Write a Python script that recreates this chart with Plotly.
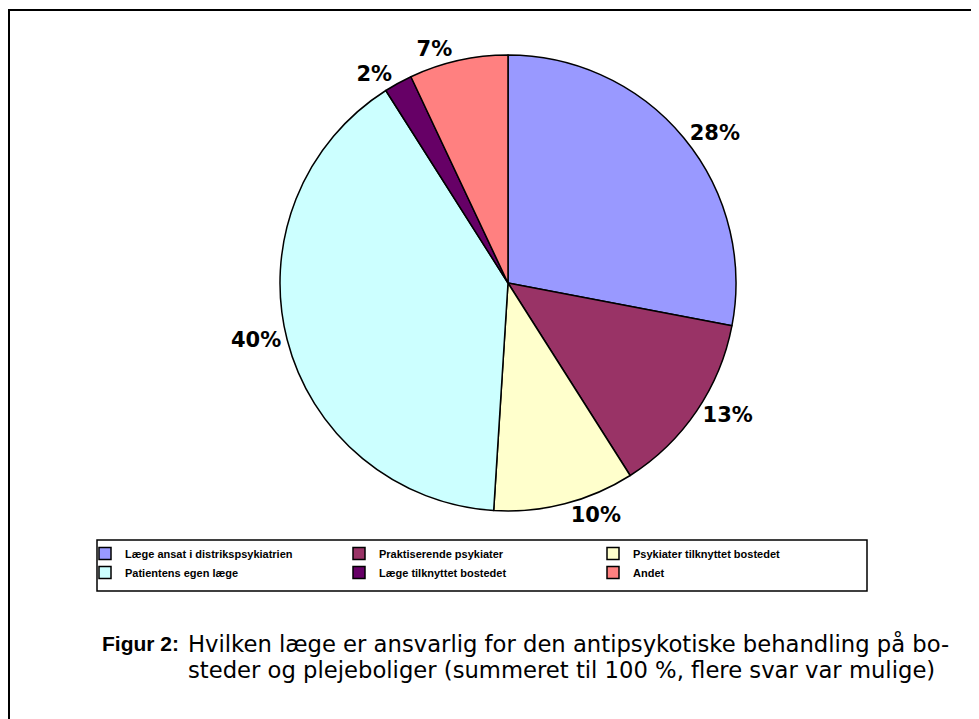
import plotly.graph_objects as go

categories = ["Læge ansat i distrikspsykiatrien", "Praktiserende psykiater",
              "Psykiater tilknyttet bostedet", "Patientens egen læge",
              "Læge tilknyttet bostedet", "Andet"]
values = [28, 13, 10, 40, 2, 7]
label_text = ["28%", "13%", "10%", "40%", "2%", "7%"]
colors = ["#9999FF", "#993366", "#FFFFCC", "#CCFFFF", "#660066", "#FF8080"]

W, H = 979, 719
OFF = 8  # page body margin
cx, cy, Rd = 508, 283, 228

def px(x):
    return (x - OFF) / W

def py(y):
    return 1 - (y - OFF) / H

fig = go.Figure()
fig.add_trace(go.Pie(
    labels=categories, values=values, text=label_text,
    textinfo="text", textposition="outside",
    outsidetextfont=dict(family="DejaVu Sans", size=21, color="black", weight="bold"),
    marker=dict(colors=colors, line=dict(color="black", width=1.5)),
    sort=False, direction="clockwise", rotation=0,
    domain=dict(x=[px(cx - Rd), px(cx + Rd)], y=[py(cy + Rd), py(cy - Rd)]),
    hoverinfo="label+percent",
))

fig.update_layout(
    width=W, height=H, margin=dict(l=0, r=0, t=0, b=0),
    paper_bgcolor="white", plot_bgcolor="white",
    showlegend=True,
    legend=dict(
        orientation="h", x=px(85), y=py(539), xanchor="left", yanchor="top",
        entrywidth=209, entrywidthmode="pixels", itemwidth=30,
        borderwidth=0, bgcolor="rgba(0,0,0,0)",
        font=dict(family="Liberation Sans", size=11, color="black", weight="bold"),
    ),
    shapes=[
        dict(type="rect", xref="paper", yref="paper",
             x0=px(9), x1=1.05, y0=-0.05, y1=py(10),
             line=dict(color="black", width=2), fillcolor="rgba(0,0,0,0)", layer="below"),
        dict(type="rect", xref="paper", yref="paper",
             x0=px(97), x1=px(867), y0=py(591), y1=py(540),
             line=dict(color="black", width=1.5), fillcolor="white", layer="below"),
    ],
    annotations=[
        dict(text="<b>Figur 2:</b>", xref="paper", yref="paper", x=px(100), y=py(643),
             xanchor="left", yanchor="middle", showarrow=False,
             font=dict(family="Liberation Sans", size=21, color="black")),
        dict(text="Hvilken læge er ansvarlig for den antipsykotiske behandling på bo-",
             xref="paper", yref="paper", x=px(186), y=py(643),
             xanchor="left", yanchor="middle", showarrow=False,
             font=dict(family="DejaVu Sans", size=22.7, color="black")),
        dict(text="steder og plejeboliger (summeret til 100 %, flere svar var mulige)",
             xref="paper", yref="paper", x=px(186), y=py(670),
             xanchor="left", yanchor="middle", showarrow=False,
             font=dict(family="DejaVu Sans", size=22.7, color="black")),
    ],
)

fig.write_html("out.html")
